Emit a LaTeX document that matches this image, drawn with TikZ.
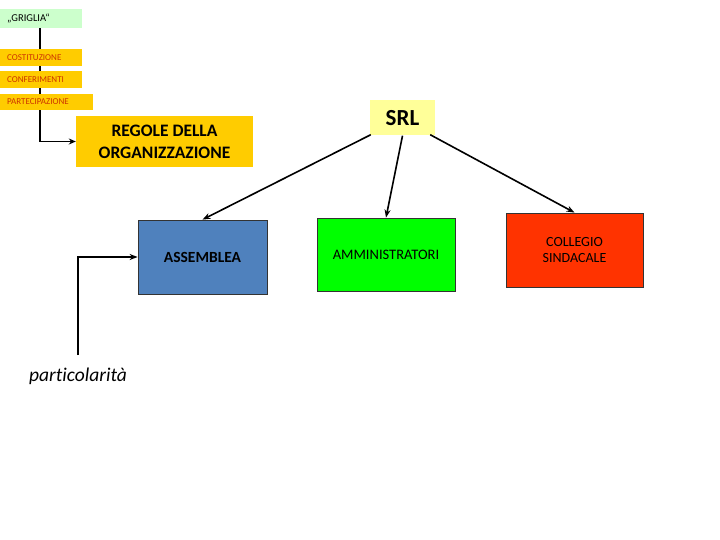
\documentclass[tikz,border=0pt]{standalone}
\usepackage{fontspec}
\setmainfont{Carlito}
\usetikzlibrary{arrows.meta,backgrounds}
\definecolor{gold}{HTML}{FFCC00}
\definecolor{paleg}{HTML}{CCFFCC}
\definecolor{paley}{HTML}{FFFF99}
\definecolor{blu}{HTML}{4F81BD}
\definecolor{verde}{HTML}{00FF00}
\definecolor{rosso}{HTML}{FF3300}
\definecolor{rtext}{HTML}{CC3300}
\tikzset{
  smallbox/.style={fill=gold, text=rtext, font=\fontsize{9}{11}\selectfont, inner sep=0pt, align=left, text width=#1, minimum height=17pt},
  bigbox/.style={draw=black!80, line width=0.8pt, minimum width=#1, inner sep=0pt, align=center},
  conn/.style={line width=1.6pt, black},
  arr/.style={conn, -{Stealth[length=8pt,width=6pt]}},
}
\begin{document}
\begin{tikzpicture}[x=1pt,y=-1pt]
\useasboundingbox (0,0) rectangle (720,540);
\node[fill=paleg, text width=82pt, minimum height=19pt, inner sep=0pt, align=left, font=\fontsize{10.5}{12}\selectfont, anchor=west] (grig) at (0,18.5) {\hspace*{7pt}„GRIGLIA“};
\node[smallbox=82pt, anchor=west] (cos) at (0,57.5) {\hspace*{7pt}COSTITUZIONE};
\node[smallbox=82pt, anchor=west] (con) at (0,80) {\hspace*{7pt}CONFERIMENTI};
\node[smallbox=93pt, minimum height=16pt, anchor=west] (par) at (0,102) {\hspace*{7pt}PARTECIPAZIONE};
\node[fill=gold, minimum width=177pt, minimum height=51pt, inner sep=0pt, align=center, font=\bfseries\fontsize{17.5}{22}\selectfont] (reg) at (164.5,141.5) {REGOLE DELLA\\ORGANIZZAZIONE};
\node[fill=paley, minimum width=65pt, minimum height=35pt, inner sep=0pt, font=\bfseries\fontsize{23}{26}\selectfont] (srl) at (402.5,118) {SRL};
\node[bigbox=129pt, minimum height=74pt, fill=blu, font=\bfseries\fontsize{15.5}{18}\selectfont] (ass) at (202.5,257) {ASSEMBLEA};
\node[bigbox=138pt, minimum height=73pt, fill=verde, font=\fontsize{14.5}{17}\selectfont] (amm) at (386,254.5) {AMMINISTRATORI};
\node[bigbox=137pt, minimum height=74pt, fill=rosso, font=\fontsize{14}{16.5}\selectfont] (col) at (574.5,250) {COLLEGIO\\SINDACALE};
\node[font=\itshape\fontsize{19.5}{22}\selectfont\addfontfeatures{Ligatures=NoCommon}] (part) at (78,376) {particolarità};
\coordinate (pstart) at (78,355);
\begin{scope}[on background layer]
\draw[conn, -{Stealth[length=7pt,width=6pt]}] (40,28) |- (reg.west);
\end{scope}
\draw[arr] (pstart) |- (ass.west);
\draw[arr] ([xshift=1pt,yshift=1pt]srl.south west) -- (ass.north);
\draw[arr] (srl.south) -- (amm.north);
\draw[arr] ([xshift=-5pt,yshift=1pt]srl.south east) -- (col.north);
\end{tikzpicture}
\end{document}
